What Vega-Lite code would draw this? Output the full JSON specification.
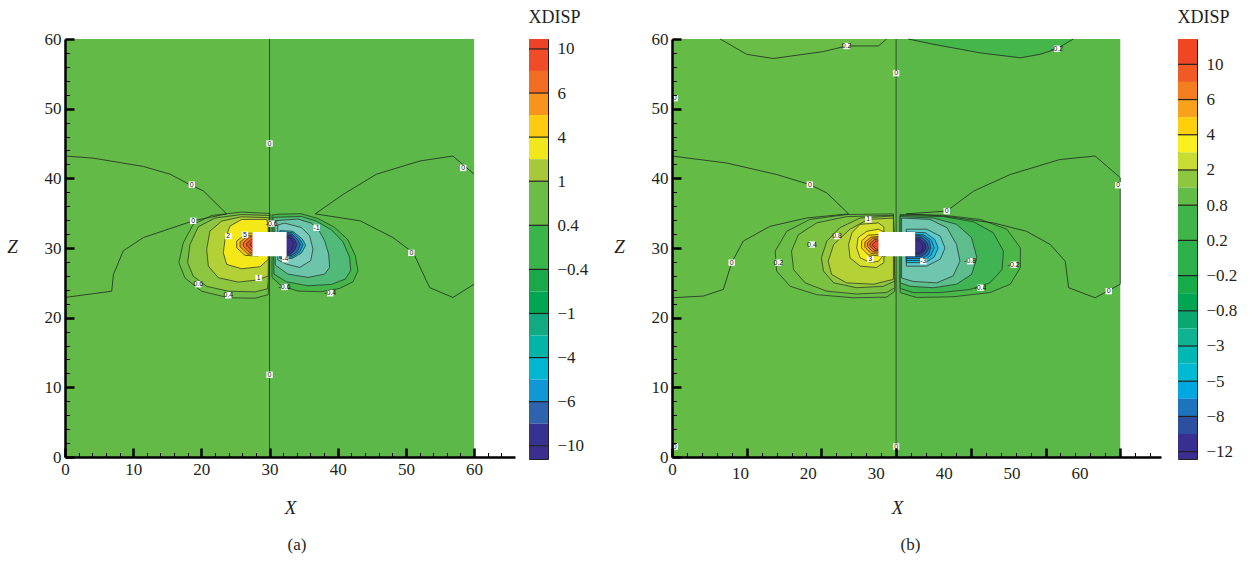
{
"$schema":"https://vega.github.io/schema/vega-lite/v6.json",
"background":"white",
"padding":{"left":6,"top":8,"right":2,"bottom":2},
"config":{
 "view":{"stroke":null},
 "axis":{"domainColor":"#000","domainWidth":2.5,"tickColor":"#000","labelFont":"Liberation Serif","labelFontSize":17,"labelColor":"#231f20","titleFont":"Liberation Serif","titleFontSize":19,"titleFontStyle":"italic","titleFontWeight":"normal","titleColor":"#231f20","grid":false,"labelFlush":false,"labelOverlap":false,"labelPadding":13},
 "title":{"font":"Liberation Serif","fontWeight":"normal","color":"#231f20"}
},
"datasets":{
 "bgA":[
  {"id":"bgL","i":0,"x":0,"z":0},{"id":"bgL","i":1,"x":30,"z":0},{"id":"bgL","i":2,"x":30,"z":60},{"id":"bgL","i":3,"x":0,"z":60},
  {"id":"bgR","i":0,"x":30,"z":0},{"id":"bgR","i":1,"x":60,"z":0},{"id":"bgR","i":2,"x":60,"z":60},{"id":"bgR","i":3,"x":30,"z":60}
 ],
 "lobesA":[
  {"id":"p01","i":0,"x":30.06,"z":34.96},{"id":"p01","i":1,"x":25.9,"z":35.15},{"id":"p01","i":2,"x":21.5,"z":34.67},{"id":"p01","i":3,"x":18.8,"z":33.38},{"id":"p01","i":4,"x":17.35,"z":30.75},{"id":"p01","i":5,"x":16.7,"z":27.9},{"id":"p01","i":6,"x":17.6,"z":25.7},{"id":"p01","i":7,"x":20.04,"z":23.8},{"id":"p01","i":8,"x":23.95,"z":22.86},{"id":"p01","i":9,"x":27.9,"z":22.8},{"id":"p01","i":10,"x":29.8,"z":23.3},{"id":"p01","i":11,"x":30.0,"z":26},
  {"id":"p02","i":0,"x":30.0,"z":34.67},{"id":"p02","i":1,"x":25.9,"z":34.8},{"id":"p02","i":2,"x":22.0,"z":34.3},{"id":"p02","i":3,"x":19.55,"z":33.05},{"id":"p02","i":4,"x":18.33,"z":30.5},{"id":"p02","i":5,"x":17.99,"z":27.9},{"id":"p02","i":6,"x":18.8,"z":25.97},{"id":"p02","i":7,"x":20.78,"z":24.5},{"id":"p02","i":8,"x":23.95,"z":23.8},{"id":"p02","i":9,"x":27.9,"z":23.7},{"id":"p02","i":10,"x":29.7,"z":24.15},{"id":"p02","i":11,"x":29.9,"z":26.5},
  {"id":"p03","i":0,"x":29.9,"z":34.34},{"id":"p03","i":1,"x":25.9,"z":34.48},{"id":"p03","i":2,"x":22.98,"z":33.86},{"id":"p03","i":3,"x":21.26,"z":32.43},{"id":"p03","i":4,"x":20.78,"z":29.8},{"id":"p03","i":5,"x":21.02,"z":27.4},{"id":"p03","i":6,"x":22.49,"z":25.73},{"id":"p03","i":7,"x":25.42,"z":25.11},{"id":"p03","i":8,"x":28.11,"z":25.4},{"id":"p03","i":9,"x":29.8,"z":25.97},
  {"id":"p04","i":0,"x":29.6,"z":34.1},{"id":"p04","i":1,"x":25.9,"z":34.1},{"id":"p04","i":2,"x":24.2,"z":33.14},{"id":"p04","i":3,"x":23.47,"z":31.23},{"id":"p04","i":4,"x":23.22,"z":29.32},{"id":"p04","i":5,"x":23.71,"z":27.65},{"id":"p04","i":6,"x":25.91,"z":27.02},{"id":"p04","i":7,"x":28.6,"z":27.31},{"id":"p04","i":8,"x":29.8,"z":28.36},{"id":"p04","i":9,"x":29.8,"z":33},
  {"id":"p05","i":0,"x":28.36,"z":32.19},{"id":"p05","i":1,"x":26.64,"z":32.09},{"id":"p05","i":2,"x":25.18,"z":30.99},{"id":"p05","i":3,"x":25.18,"z":30.03},{"id":"p05","i":4,"x":26.4,"z":28.94},{"id":"p05","i":5,"x":28.36,"z":28.84},
  {"id":"p06","i":0,"x":28.36,"z":31.9},{"id":"p06","i":1,"x":26.89,"z":31.8},{"id":"p06","i":2,"x":25.67,"z":30.85},{"id":"p06","i":3,"x":25.67,"z":30.18},{"id":"p06","i":4,"x":26.79,"z":29.13},{"id":"p06","i":5,"x":28.36,"z":29.08},
  {"id":"p07","i":0,"x":28.36,"z":31.71},{"id":"p07","i":1,"x":27.13,"z":31.61},{"id":"p07","i":2,"x":26.15,"z":30.75},{"id":"p07","i":3,"x":26.15,"z":30.27},{"id":"p07","i":4,"x":27.13,"z":29.32},{"id":"p07","i":5,"x":28.36,"z":29.32},
  {"id":"p08","i":0,"x":28.36,"z":31.47},{"id":"p08","i":1,"x":27.48,"z":31.37},{"id":"p08","i":2,"x":26.64,"z":30.66},{"id":"p08","i":3,"x":26.64,"z":30.37},{"id":"p08","i":4,"x":27.48,"z":29.56},{"id":"p08","i":5,"x":28.36,"z":29.56},
  {"id":"p09","i":0,"x":28.36,"z":31.23},{"id":"p09","i":1,"x":27.77,"z":31.13},{"id":"p09","i":2,"x":27.18,"z":30.61},{"id":"p09","i":3,"x":27.18,"z":30.42},{"id":"p09","i":4,"x":27.77,"z":29.8},{"id":"p09","i":5,"x":28.36,"z":29.8},
  {"id":"p11","i":0,"x":30.36,"z":34.72},{"id":"p11","i":1,"x":31.24,"z":34.86},{"id":"p11","i":2,"x":34.66,"z":34.91},{"id":"p11","i":3,"x":37.1,"z":34.24},{"id":"p11","i":4,"x":39.55,"z":32.95},{"id":"p11","i":5,"x":41.5,"z":31.18},{"id":"p11","i":6,"x":42.58,"z":28.89},{"id":"p11","i":7,"x":42.97,"z":26.73},{"id":"p11","i":8,"x":42.23,"z":25.15},{"id":"p11","i":9,"x":40.28,"z":24.2},{"id":"p11","i":10,"x":37.59,"z":23.72},{"id":"p11","i":11,"x":34.17,"z":23.82},{"id":"p11","i":12,"x":31.73,"z":24.58},{"id":"p11","i":13,"x":30.36,"z":25.78},
  {"id":"p12","i":0,"x":30.5,"z":34.4},{"id":"p12","i":1,"x":34.66,"z":34.53},{"id":"p12","i":2,"x":36.86,"z":33.86},{"id":"p12","i":3,"x":39.06,"z":32.62},{"id":"p12","i":4,"x":40.77,"z":30.89},{"id":"p12","i":5,"x":41.75,"z":28.65},{"id":"p12","i":6,"x":41.89,"z":26.73},{"id":"p12","i":7,"x":41.11,"z":25.54},{"id":"p12","i":8,"x":39.06,"z":24.77},{"id":"p12","i":9,"x":35.64,"z":24.58},{"id":"p12","i":10,"x":32.46,"z":25.15},{"id":"p12","i":11,"x":30.65,"z":26.26},
  {"id":"p13","i":0,"x":30.75,"z":33.91},{"id":"p13","i":1,"x":34.17,"z":34.15},{"id":"p13","i":2,"x":36.12,"z":33.57},{"id":"p13","i":3,"x":37.2,"z":32.62},{"id":"p13","i":4,"x":38.08,"z":31.04},{"id":"p13","i":5,"x":38.67,"z":29.12},{"id":"p13","i":6,"x":38.81,"z":27.21},{"id":"p13","i":7,"x":38.08,"z":26.25},{"id":"p13","i":8,"x":35.64,"z":25.78},{"id":"p13","i":9,"x":32.7,"z":26.25},{"id":"p13","i":10,"x":30.85,"z":27.55},
  {"id":"p14","i":0,"x":31.2,"z":33.3},{"id":"p14","i":1,"x":32.21,"z":33.57},{"id":"p14","i":2,"x":34.66,"z":32.95},{"id":"p14","i":3,"x":35.88,"z":31.75},{"id":"p14","i":4,"x":36.37,"z":29.84},{"id":"p14","i":5,"x":36.03,"z":28.17},{"id":"p14","i":6,"x":34.41,"z":27.21},{"id":"p14","i":7,"x":32.46,"z":27.69},{"id":"p14","i":8,"x":31.2,"z":28.3},
  {"id":"p15","i":0,"x":31.5,"z":32.5},{"id":"p15","i":1,"x":33.4,"z":32.4},{"id":"p15","i":2,"x":34.8,"z":31.3},{"id":"p15","i":3,"x":35.3,"z":30.4},{"id":"p15","i":4,"x":34.7,"z":29.3},{"id":"p15","i":5,"x":33.3,"z":28.5},{"id":"p15","i":6,"x":31.5,"z":28.5},
  {"id":"p16","i":0,"x":31.5,"z":32.3},{"id":"p16","i":1,"x":33.4,"z":32.2},{"id":"p16","i":2,"x":34.5,"z":31.2},{"id":"p16","i":3,"x":34.9,"z":30.45},{"id":"p16","i":4,"x":34.4,"z":29.4},{"id":"p16","i":5,"x":33.3,"z":28.7},{"id":"p16","i":6,"x":31.5,"z":28.7},
  {"id":"p17","i":0,"x":31.5,"z":32.1},{"id":"p17","i":1,"x":33.3,"z":32.0},{"id":"p17","i":2,"x":34.2,"z":31.1},{"id":"p17","i":3,"x":34.5,"z":30.5},{"id":"p17","i":4,"x":34.1,"z":29.5},{"id":"p17","i":5,"x":33.2,"z":28.9},{"id":"p17","i":6,"x":31.5,"z":28.9},
  {"id":"p18","i":0,"x":31.5,"z":31.9},{"id":"p18","i":1,"x":33.2,"z":31.8},{"id":"p18","i":2,"x":33.8,"z":31.0},{"id":"p18","i":3,"x":34.0,"z":30.5},{"id":"p18","i":4,"x":33.7,"z":29.7},{"id":"p18","i":5,"x":33.1,"z":29.1},{"id":"p18","i":6,"x":31.5,"z":29.1},
  {"id":"p19","i":0,"x":31.5,"z":31.6},{"id":"p19","i":1,"x":33.0,"z":31.5},{"id":"p19","i":2,"x":33.4,"z":30.9},{"id":"p19","i":3,"x":33.5,"z":30.5},{"id":"p19","i":4,"x":33.3,"z":29.9},{"id":"p19","i":5,"x":32.9,"z":29.4},{"id":"p19","i":6,"x":31.5,"z":29.4}
 ],
 "linesA":[
  {"id":"L1","i":0,"x":0,"z":43.2},{"id":"L1","i":1,"x":4.15,"z":42.9},{"id":"L1","i":2,"x":11.5,"z":41.7},{"id":"L1","i":3,"x":15.4,"z":40.6},{"id":"L1","i":4,"x":18.3,"z":39.1},{"id":"L1","i":5,"x":20.3,"z":38.2},{"id":"L1","i":6,"x":23.7,"z":34.9},
  {"id":"L2","i":0,"x":23.7,"z":34.9},{"id":"L2","i":1,"x":18.8,"z":33.9},{"id":"L2","i":2,"x":11.5,"z":31.5},{"id":"L2","i":3,"x":8.55,"z":29.6},{"id":"L2","i":4,"x":7.1,"z":26.2},{"id":"L2","i":5,"x":6.85,"z":23.8},{"id":"L2","i":6,"x":0,"z":22.9},
  {"id":"L3","i":0,"x":36.7,"z":34.9},{"id":"L3","i":1,"x":40.8,"z":37.7},{"id":"L3","i":2,"x":45.7,"z":40.6},{"id":"L3","i":3,"x":52.1,"z":42.5},{"id":"L3","i":4,"x":56.9,"z":43.2},{"id":"L3","i":5,"x":60,"z":40.6},
  {"id":"L4","i":0,"x":36.7,"z":34.9},{"id":"L4","i":1,"x":43.3,"z":33.9},{"id":"L4","i":2,"x":48.1,"z":31.5},{"id":"L4","i":3,"x":51.1,"z":29.3},{"id":"L4","i":4,"x":53.0,"z":25.3},{"id":"L4","i":5,"x":53.5,"z":24.3},{"id":"L4","i":6,"x":56.9,"z":22.9},{"id":"L4","i":7,"x":60,"z":24.8},
  {"id":"V","i":0,"x":30,"z":0},{"id":"V","i":1,"x":30,"z":60}
 ],
 "blockA":[{"x":27.5,"x1":32.5,"z":28.8,"z1":32.3}],
 "textA":[
  {"x":30,"z":45,"t":"0"},{"x":30,"z":11.8,"t":"0"},{"x":18.6,"z":39.1,"t":"0"},{"x":18.8,"z":33.9,"t":"0"},{"x":58.4,"z":41.5,"t":"0"},{"x":50.8,"z":29.3,"t":"0"},
  {"x":19.55,"z":24.8,"t":"0.6"},{"x":23.95,"z":23.2,"t":"0.4"},{"x":28.4,"z":25.7,"t":"1"},{"x":23.95,"z":31.7,"t":"2"},{"x":26.4,"z":31.9,"t":"5"},
  {"x":30.3,"z":33.5,"t":"-0.6"},{"x":36.9,"z":32.9,"t":"-1"},{"x":32.3,"z":28.4,"t":"-4"},{"x":32.2,"z":24.4,"t":"-0.6"},{"x":38.9,"z":23.5,"t":"-0.4"}
 ],
 "legA":[
  {"id":"la00","y":0,"y1":0.45},{"id":"la01","y":0.45,"y1":1.45},{"id":"la02","y":1.45,"y1":2.45},{"id":"la03","y":2.45,"y1":3.45},{"id":"la04","y":3.45,"y1":4.45},{"id":"la05","y":4.45,"y1":5.45},{"id":"la06","y":5.45,"y1":6.45},{"id":"la07","y":6.45,"y1":8.45},{"id":"la08","y":8.45,"y1":10.45},{"id":"la09","y":10.45,"y1":11.45},{"id":"la10","y":11.45,"y1":12.45},{"id":"la11","y":12.45,"y1":13.45},{"id":"la12","y":13.45,"y1":14.45},{"id":"la13","y":14.45,"y1":15.45},{"id":"la14","y":15.45,"y1":16.45},{"id":"la15","y":16.45,"y1":17.45},{"id":"la16","y":17.45,"y1":18.45},{"id":"la17","y":18.45,"y1":19.05}
 ],
 "legAL":[{"y":0.45},{"y":2.45},{"y":4.45},{"y":6.45},{"y":8.45},{"y":10.45},{"y":12.45},{"y":14.45},{"y":16.45},{"y":18.45}],
 "bgB":[
  {"id":"bgL","i":0,"x":0,"z":0},{"id":"bgL","i":1,"x":33,"z":0},{"id":"bgL","i":2,"x":33,"z":60},{"id":"bgL","i":3,"x":0,"z":60},
  {"id":"bgR","i":0,"x":33,"z":0},{"id":"bgR","i":1,"x":66,"z":0},{"id":"bgR","i":2,"x":66,"z":60},{"id":"bgR","i":3,"x":33,"z":60},
  {"id":"tl","i":0,"x":7.1,"z":60},{"id":"tl","i":1,"x":11.0,"z":57.8},{"id":"tl","i":2,"x":14.9,"z":57.2},{"id":"tl","i":3,"x":22.3,"z":58.2},{"id":"tl","i":4,"x":25.7,"z":59.0},{"id":"tl","i":5,"x":30.4,"z":59.0},{"id":"tl","i":6,"x":31.6,"z":60},
  {"id":"tr","i":0,"x":34.8,"z":60},{"id":"tr","i":1,"x":38.2,"z":59.3},{"id":"tr","i":2,"x":45.4,"z":58.0},{"id":"tr","i":3,"x":51.3,"z":57.3},{"id":"tr","i":4,"x":54.2,"z":57.8},{"id":"tr","i":5,"x":56.7,"z":58.6},{"id":"tr","i":6,"x":59.1,"z":60}
 ],
 "lobesB":[
  {"id":"q01","i":0,"x":32.6,"z":34.9},{"id":"q01","i":1,"x":25.7,"z":34.8},{"id":"q01","i":2,"x":20.3,"z":34.1},{"id":"q01","i":3,"x":16.9,"z":32.4},{"id":"q01","i":4,"x":15.2,"z":29.55},{"id":"q01","i":5,"x":15.4,"z":26.7},{"id":"q01","i":6,"x":17.4,"z":24.5},{"id":"q01","i":7,"x":21.3,"z":23.3},{"id":"q01","i":8,"x":26.7,"z":22.86},{"id":"q01","i":9,"x":31.6,"z":22.95},{"id":"q01","i":10,"x":32.8,"z":23.8},
  {"id":"q02","i":0,"x":32.6,"z":34.7},{"id":"q02","i":1,"x":25.7,"z":34.5},{"id":"q02","i":2,"x":21.3,"z":33.6},{"id":"q02","i":3,"x":18.6,"z":31.9},{"id":"q02","i":4,"x":17.6,"z":29.55},{"id":"q02","i":5,"x":17.9,"z":26.9},{"id":"q02","i":6,"x":19.6,"z":25.0},{"id":"q02","i":7,"x":22.8,"z":23.8},{"id":"q02","i":8,"x":27.2,"z":23.4},{"id":"q02","i":9,"x":31.6,"z":23.6},{"id":"q02","i":10,"x":32.8,"z":24.3},
  {"id":"q03","i":0,"x":32.6,"z":34.6},{"id":"q03","i":1,"x":27.7,"z":34.3},{"id":"q03","i":2,"x":24.7,"z":32.9},{"id":"q03","i":3,"x":22.8,"z":31.0},{"id":"q03","i":4,"x":22.0,"z":28.6},{"id":"q03","i":5,"x":22.3,"z":26.7},{"id":"q03","i":6,"x":23.8,"z":25.0},{"id":"q03","i":7,"x":27.2,"z":24.3},{"id":"q03","i":8,"x":31.1,"z":24.5},{"id":"q03","i":9,"x":32.8,"z":25.25},
  {"id":"q04","i":0,"x":32.6,"z":34.3},{"id":"q04","i":1,"x":28.9,"z":34.1},{"id":"q04","i":2,"x":26.2,"z":32.7},{"id":"q04","i":3,"x":23.8,"z":30.5},{"id":"q04","i":4,"x":23.0,"z":28.1},{"id":"q04","i":5,"x":23.5,"z":26.2},{"id":"q04","i":6,"x":25.7,"z":25.0},{"id":"q04","i":7,"x":29.7,"z":24.8},{"id":"q04","i":8,"x":32.6,"z":25.5},
  {"id":"q05","i":0,"x":30.4,"z":33.6},{"id":"q05","i":1,"x":27.7,"z":33.4},{"id":"q05","i":2,"x":26.5,"z":32.2},{"id":"q05","i":3,"x":26.0,"z":30.5},{"id":"q05","i":4,"x":26.2,"z":28.6},{"id":"q05","i":5,"x":27.7,"z":27.4},{"id":"q05","i":6,"x":30.1,"z":27.2},{"id":"q05","i":7,"x":31.2,"z":27.9},{"id":"q05","i":8,"x":31.2,"z":33.0},
  {"id":"q06","i":0,"x":30.4,"z":32.7},{"id":"q06","i":1,"x":28.7,"z":32.4},{"id":"q06","i":2,"x":27.4,"z":31.5},{"id":"q06","i":3,"x":27.2,"z":30.0},{"id":"q06","i":4,"x":27.7,"z":28.6},{"id":"q06","i":5,"x":29.2,"z":27.9},{"id":"q06","i":6,"x":30.4,"z":28.1},{"id":"q06","i":7,"x":31.2,"z":29.0},{"id":"q06","i":8,"x":31.2,"z":32.3},
  {"id":"q07","i":0,"x":31.5,"z":32.0},{"id":"q07","i":1,"x":28.9,"z":31.85},{"id":"q07","i":2,"x":27.9,"z":31.0},{"id":"q07","i":3,"x":27.9,"z":30.0},{"id":"q07","i":4,"x":28.9,"z":29.0},{"id":"q07","i":5,"x":31.5,"z":28.8},
  {"id":"q08","i":0,"x":31.5,"z":31.75},{"id":"q08","i":1,"x":29.3,"z":31.56},{"id":"q08","i":2,"x":28.4,"z":30.85},{"id":"q08","i":3,"x":28.4,"z":30.13},{"id":"q08","i":4,"x":29.3,"z":29.2},{"id":"q08","i":5,"x":31.5,"z":29.08},
  {"id":"q09","i":0,"x":31.5,"z":31.56},{"id":"q09","i":1,"x":29.55,"z":31.4},{"id":"q09","i":2,"x":28.8,"z":30.75},{"id":"q09","i":3,"x":28.8,"z":30.2},{"id":"q09","i":4,"x":29.55,"z":29.46},{"id":"q09","i":5,"x":31.5,"z":29.3},
  {"id":"q10","i":0,"x":31.5,"z":31.4},{"id":"q10","i":1,"x":29.8,"z":31.2},{"id":"q10","i":2,"x":29.16,"z":30.65},{"id":"q10","i":3,"x":29.16,"z":30.3},{"id":"q10","i":4,"x":29.8,"z":29.65},{"id":"q10","i":5,"x":31.5,"z":29.55},
  {"id":"q11","i":0,"x":31.5,"z":31.18},{"id":"q11","i":1,"x":30.04,"z":31.0},{"id":"q11","i":2,"x":29.55,"z":30.56},{"id":"q11","i":3,"x":29.55,"z":30.37},{"id":"q11","i":4,"x":30.04,"z":29.84},{"id":"q11","i":5,"x":31.5,"z":29.75},
  {"id":"r01","i":0,"x":33.6,"z":34.8},{"id":"r01","i":1,"x":40.0,"z":34.7},{"id":"r01","i":2,"x":45.4,"z":34.1},{"id":"r01","i":3,"x":49.3,"z":32.7},{"id":"r01","i":4,"x":51.3,"z":30.0},{"id":"r01","i":5,"x":51.3,"z":27.2},{"id":"r01","i":6,"x":49.8,"z":24.8},{"id":"r01","i":7,"x":46.8,"z":23.6},{"id":"r01","i":8,"x":41.4,"z":23.0},{"id":"r01","i":9,"x":36.0,"z":22.9},{"id":"r01","i":10,"x":33.6,"z":23.6},
  {"id":"r02","i":0,"x":33.6,"z":34.67},{"id":"r02","i":1,"x":40.0,"z":34.5},{"id":"r02","i":2,"x":44.4,"z":33.76},{"id":"r02","i":3,"x":47.3,"z":32.2},{"id":"r02","i":4,"x":48.8,"z":29.55},{"id":"r02","i":5,"x":48.6,"z":26.9},{"id":"r02","i":6,"x":46.8,"z":25.0},{"id":"r02","i":7,"x":43.9,"z":24.05},{"id":"r02","i":8,"x":39.5,"z":23.6},{"id":"r02","i":9,"x":35.5,"z":23.6},{"id":"r02","i":10,"x":33.6,"z":24.2},
  {"id":"r03","i":0,"x":33.6,"z":34.5},{"id":"r03","i":1,"x":38.5,"z":34.3},{"id":"r03","i":2,"x":41.9,"z":33.4},{"id":"r03","i":3,"x":44.1,"z":31.5},{"id":"r03","i":4,"x":44.9,"z":28.6},{"id":"r03","i":5,"x":44.1,"z":26.2},{"id":"r03","i":6,"x":41.9,"z":24.8},{"id":"r03","i":7,"x":38.5,"z":24.3},{"id":"r03","i":8,"x":35.1,"z":24.5},{"id":"r03","i":9,"x":33.6,"z":25.0},
  {"id":"r04","i":0,"x":33.8,"z":34.3},{"id":"r04","i":1,"x":38.0,"z":34.1},{"id":"r04","i":2,"x":40.5,"z":32.9},{"id":"r04","i":3,"x":41.9,"z":30.5},{"id":"r04","i":4,"x":42.4,"z":28.1},{"id":"r04","i":5,"x":41.4,"z":26.0},{"id":"r04","i":6,"x":39.0,"z":25.0},{"id":"r04","i":7,"x":35.5,"z":25.2},{"id":"r04","i":8,"x":33.8,"z":25.7},
  {"id":"r05","i":0,"x":34.5,"z":32.7},{"id":"r05","i":1,"x":37.5,"z":32.7},{"id":"r05","i":2,"x":39.5,"z":31.7},{"id":"r05","i":3,"x":40.2,"z":30.0},{"id":"r05","i":4,"x":39.5,"z":28.4},{"id":"r05","i":5,"x":37.5,"z":27.4},{"id":"r05","i":6,"x":34.5,"z":27.4},
  {"id":"r06","i":0,"x":34.5,"z":32.3},{"id":"r06","i":1,"x":37.3,"z":32.2},{"id":"r06","i":2,"x":38.7,"z":31.2},{"id":"r06","i":3,"x":39.2,"z":30.0},{"id":"r06","i":4,"x":38.6,"z":28.7},{"id":"r06","i":5,"x":37.3,"z":27.9},{"id":"r06","i":6,"x":34.5,"z":27.9},
  {"id":"r07","i":0,"x":34.5,"z":32.0},{"id":"r07","i":1,"x":37.0,"z":31.9},{"id":"r07","i":2,"x":38.2,"z":31.1},{"id":"r07","i":3,"x":38.6,"z":30.0},{"id":"r07","i":4,"x":38.1,"z":28.9},{"id":"r07","i":5,"x":37.0,"z":28.2},{"id":"r07","i":6,"x":34.5,"z":28.2},
  {"id":"r08","i":0,"x":34.5,"z":31.85},{"id":"r08","i":1,"x":36.9,"z":31.75},{"id":"r08","i":2,"x":37.9,"z":31.0},{"id":"r08","i":3,"x":38.1,"z":30.0},{"id":"r08","i":4,"x":37.8,"z":29.1},{"id":"r08","i":5,"x":36.9,"z":28.5},{"id":"r08","i":6,"x":34.5,"z":28.5},
  {"id":"r09","i":0,"x":34.5,"z":31.6},{"id":"r09","i":1,"x":36.7,"z":31.5},{"id":"r09","i":2,"x":37.5,"z":30.85},{"id":"r09","i":3,"x":37.8,"z":30.0},{"id":"r09","i":4,"x":37.4,"z":29.3},{"id":"r09","i":5,"x":36.7,"z":28.8},{"id":"r09","i":6,"x":34.5,"z":28.8},
  {"id":"r10","i":0,"x":34.5,"z":31.4},{"id":"r10","i":1,"x":36.5,"z":31.3},{"id":"r10","i":2,"x":37.2,"z":30.7},{"id":"r10","i":3,"x":37.4,"z":30.0},{"id":"r10","i":4,"x":37.1,"z":29.5},{"id":"r10","i":5,"x":36.5,"z":29.1},{"id":"r10","i":6,"x":34.5,"z":29.1},
  {"id":"r11","i":0,"x":34.5,"z":31.2},{"id":"r11","i":1,"x":36.3,"z":31.1},{"id":"r11","i":2,"x":36.8,"z":30.6},{"id":"r11","i":3,"x":37.0,"z":30.0},{"id":"r11","i":4,"x":36.8,"z":29.6},{"id":"r11","i":5,"x":36.3,"z":29.3},{"id":"r11","i":6,"x":34.5,"z":29.3}
 ],
 "linesB":[
  {"id":"T1","i":0,"x":7.1,"z":60},{"id":"T1","i":1,"x":11.0,"z":57.8},{"id":"T1","i":2,"x":14.9,"z":57.2},{"id":"T1","i":3,"x":22.3,"z":58.2},{"id":"T1","i":4,"x":25.7,"z":59.0},{"id":"T1","i":5,"x":30.4,"z":59.0},{"id":"T1","i":6,"x":31.6,"z":60},
  {"id":"T2","i":0,"x":34.8,"z":60},{"id":"T2","i":1,"x":38.2,"z":59.3},{"id":"T2","i":2,"x":45.4,"z":58.0},{"id":"T2","i":3,"x":51.3,"z":57.3},{"id":"T2","i":4,"x":54.2,"z":57.8},{"id":"T2","i":5,"x":56.7,"z":58.6},{"id":"T2","i":6,"x":59.1,"z":60},
  {"id":"L1","i":0,"x":0,"z":43.2},{"id":"L1","i":1,"x":8.05,"z":42.2},{"id":"L1","i":2,"x":15.4,"z":40.55},{"id":"L1","i":3,"x":20.3,"z":39.1},{"id":"L1","i":4,"x":22.8,"z":37.9},{"id":"L1","i":5,"x":26.0,"z":34.9},
  {"id":"L2","i":0,"x":26.0,"z":34.9},{"id":"L2","i":1,"x":19.8,"z":34.3},{"id":"L2","i":2,"x":14.4,"z":33.1},{"id":"L2","i":3,"x":10.5,"z":31.0},{"id":"L2","i":4,"x":8.79,"z":27.9},{"id":"L2","i":5,"x":7.56,"z":24.05},{"id":"L2","i":6,"x":4.6,"z":23.1},{"id":"L2","i":7,"x":0,"z":22.86},
  {"id":"L3","i":0,"x":34.5,"z":34.9},{"id":"L3","i":1,"x":40.45,"z":35.3},{"id":"L3","i":2,"x":44.4,"z":38.16},{"id":"L3","i":3,"x":49.8,"z":40.55},{"id":"L3","i":4,"x":57.1,"z":42.7},{"id":"L3","i":5,"x":62.3,"z":43.2},{"id":"L3","i":6,"x":66,"z":40.1},
  {"id":"L4","i":0,"x":34.5,"z":34.9},{"id":"L4","i":1,"x":40.0,"z":34.6},{"id":"L4","i":2,"x":47.3,"z":33.6},{"id":"L4","i":3,"x":52.2,"z":32.4},{"id":"L4","i":4,"x":55.7,"z":30.5},{"id":"L4","i":5,"x":57.9,"z":28.1},{"id":"L4","i":6,"x":58.4,"z":24.3},{"id":"L4","i":7,"x":62.3,"z":22.86},{"id":"L4","i":8,"x":66,"z":24.8},
  {"id":"E","i":0,"x":66,"z":24.8},{"id":"E","i":1,"x":66,"z":40.1},
  {"id":"V","i":0,"x":33,"z":0},{"id":"V","i":1,"x":33,"z":60}
 ],
 "blockB":[{"x":30.4,"x1":35.8,"z":28.8,"z1":32.3}],
 "textB":[
  {"x":25.7,"z":59.0,"t":"0.2"},{"x":56.7,"z":58.6,"t":"-0.2"},{"x":33,"z":55.1,"t":"0"},{"x":20.3,"z":39.1,"t":"0"},{"x":40.45,"z":35.3,"t":"0"},{"x":65.7,"z":39.0,"t":"0"},{"x":8.79,"z":27.9,"t":"0"},{"x":64.3,"z":23.8,"t":"0"},{"x":33,"z":1.5,"t":"0"},{"x":0.4,"z":51.5,"t":"0"},{"x":0.4,"z":1.5,"t":"0"},
  {"x":15.66,"z":27.9,"t":"0.2"},{"x":20.6,"z":30.5,"t":"0.4"},{"x":24.3,"z":31.7,"t":"0.8"},{"x":28.9,"z":34.1,"t":"1"},{"x":29.2,"z":28.4,"t":"3"},{"x":37.0,"z":28.1,"t":"-3"},{"x":43.9,"z":28.1,"t":"-0.8"},{"x":50.3,"z":27.6,"t":"-0.2"},{"x":45.4,"z":24.3,"t":"-0.4"}
 ],
 "legB":[
  {"id":"lb00","y":0,"y1":1.44},{"id":"lb01","y":1.44,"y1":2.44},{"id":"lb02","y":2.44,"y1":3.44},{"id":"lb03","y":3.44,"y1":4.44},{"id":"lb04","y":4.44,"y1":5.44},{"id":"lb05","y":5.44,"y1":6.44},{"id":"lb06","y":6.44,"y1":7.44},{"id":"lb07","y":7.44,"y1":8.44},{"id":"lb08","y":8.44,"y1":9.44},{"id":"lb09","y":9.44,"y1":11.44},{"id":"lb10","y":11.44,"y1":13.44},{"id":"lb11","y":13.44,"y1":14.44},{"id":"lb12","y":14.44,"y1":15.44},{"id":"lb13","y":15.44,"y1":16.44},{"id":"lb14","y":16.44,"y1":17.44},{"id":"lb15","y":17.44,"y1":18.44},{"id":"lb16","y":18.44,"y1":19.44},{"id":"lb17","y":19.44,"y1":20.44},{"id":"lb18","y":20.44,"y1":21.44},{"id":"lb19","y":21.44,"y1":22.44},{"id":"lb20","y":22.44,"y1":23.44},{"id":"lb21","y":23.44,"y1":23.86}
 ],
 "legBL":[{"y":1.44},{"y":3.44},{"y":5.44},{"y":7.44},{"y":9.44},{"y":11.44},{"y":13.44},{"y":15.44},{"y":17.44},{"y":19.44},{"y":21.44},{"y":23.44}]
},
"resolve":{"scale":{"fill":"independent","x":"independent","y":"independent"}},
"spacing":24,
"hconcat":[
 {"spacing":12,"resolve":{"scale":{"fill":"independent","x":"independent","y":"independent"}},"hconcat":[
  {
   "width":450,"height":418,
   "title":{"text":"(a)","orient":"bottom","fontSize":17,"offset":20,"dx":7},
   "encoding":{
    "x":{"field":"x","type":"quantitative","title":"X","scale":{"domain":[0,66],"nice":false,"zero":false},
     "axis":{"zindex":1,"format":"d","tickCount":200,"values":[0,2,4,6,8,10,12,14,16,18,20,22,24,26,28,30,32,34,36,38,40,42,44,46,48,50,52,54,56,58,60,62,64],"labelExpr":"datum.value % 10 === 0 ? datum.label : ''","tickSize":{"condition":{"test":"datum.value % 10 === 0","value":-9},"value":-4.5},"tickWidth":{"condition":{"test":"datum.value % 10 === 0","value":2.5},"value":1},"titleX":225,"titleY":50,"titleAlign":"center","titleBaseline":"middle"}},
    "y":{"field":"z","type":"quantitative","title":"Z","scale":{"domain":[0,60],"nice":false,"zero":false},
     "axis":{"zindex":1,"format":"d","tickCount":200,"values":[0,2,4,6,8,10,12,14,16,18,20,22,24,26,28,30,32,34,36,38,40,42,44,46,48,50,52,54,56,58,60],"labelExpr":"datum.value % 10 === 0 ? datum.label : ''","tickSize":{"condition":{"test":"datum.value % 10 === 0","value":-9},"value":-4.5},"tickWidth":{"condition":{"test":"datum.value % 10 === 0","value":2.5},"value":1},"titleAngle":0,"titleX":-53,"titleY":207,"titleAlign":"center","titleBaseline":"middle"}},
    "fill":{"field":"id","type":"nominal","legend":null,"scale":{
     "domain":["bgL","bgR","p01","p02","p03","p04","p05","p06","p07","p08","p09","p11","p12","p13","p14","p15","p16","p17","p18","p19"],
     "range":["#63ba46","#5cb848","#6fbe45","#8cc540","#b3d037","#f4e819","#fccf0e","#f7941e","#f26b22","#ee4d26","#e8412a","#46b64b","#52ba78","#6cc5ab","#7acbbd","#22b8d6","#1b95d5","#2e62ad","#37318f","#3b2f8f"]}}
   },
   "layer":[
    {"data":{"name":"bgA"},"mark":{"type":"line","interpolate":"linear-closed","stroke":"transparent","strokeWidth":0},"encoding":{"order":{"field":"i","type":"quantitative"}}},
    {"data":{"name":"lobesA"},"mark":{"type":"line","interpolate":"linear-closed","stroke":"#1f2a20","strokeWidth":0.7},"encoding":{"order":{"field":"i","type":"quantitative"}}},
    {"data":{"name":"linesA"},"mark":{"type":"line","stroke":"#1f2a20","strokeWidth":0.8},"encoding":{"detail":{"field":"id"},"order":{"field":"i","type":"quantitative"},"fill":{"value":"transparent"}}},
    {"data":{"name":"blockA"},"mark":{"type":"rect"},"encoding":{"x2":{"field":"x1"},"y2":{"field":"z1"},"fill":{"value":"white"}}},
    {"data":{"name":"textA"},"mark":{"type":"point","shape":"square","filled":true,"size":40,"opacity":1},"encoding":{"fill":{"value":"white"}}},
    {"data":{"name":"textA"},"mark":{"type":"text","fontSize":7,"font":"Liberation Sans"},"encoding":{"text":{"field":"t"},"fill":{"value":"#111"}}}
   ]
  },
  {
   "width":19,"height":420,
   "view":{"stroke":"#231f20","strokeWidth":1},
   "title":{"text":"XDISP","anchor":"start","fontSize":18,"offset":12},
   "layer":[
    {"data":{"name":"legA"},"mark":{"type":"rect"},"encoding":{
      "y":{"field":"y","type":"quantitative","title":null,"scale":{"domain":[0,19.05],"reverse":true,"nice":false,"zero":false},
       "axis":{"orient":"right","tickCount":200,"values":[0.45,2.45,4.45,6.45,8.45,10.45,12.45,14.45,16.45,18.45],"labelExpr":"['10','6','4','1','0.4','−0.4','−1','−4','−6','−10'][round((datum.value-0.45)/2)]","ticks":false,"domain":false,"labelPadding":9,"labelBaseline":"middle","labelOverlap":false,"labelBound":false}},
      "y2":{"field":"y1"},
      "fill":{"field":"id","type":"nominal","legend":null,"scale":{
       "domain":["la00","la01","la02","la03","la04","la05","la06","la07","la08","la09","la10","la11","la12","la13","la14","la15","la16","la17"],
       "range":["#ec4326","#ef4c27","#f26d21","#f7941d","#fdcc0e","#f0e81a","#a8c83a","#6bbd45","#39b54a","#1aa84b","#00a651","#12aa80","#00b4a6","#00b6d0","#0f97d6","#2e63ae","#35338f","#3a2f8e"]}}}},
    {"data":{"name":"legAL"},"mark":{"type":"rule","color":"#231f20","strokeWidth":1.2},"encoding":{"y":{"field":"y","type":"quantitative"}}}
   ]
  }
 ]},
 {"spacing":15,"resolve":{"scale":{"fill":"independent","x":"independent","y":"independent"}},"hconcat":[
  {
   "width":489,"height":418,
   "title":{"text":"(b)","orient":"bottom","fontSize":17,"offset":20,"dx":-6},
   "encoding":{
    "x":{"field":"x","type":"quantitative","title":"X","scale":{"domain":[0,72],"nice":false,"zero":false},
     "axis":{"zindex":1,"format":"d","tickCount":200,"values":[0,2.2,4.4,6.6,8.8,10,11,13.2,15.4,17.6,19.8,20,22,24.2,26.4,28.6,30,30.8,33,35.2,37.4,39.6,40,41.8,44,46.2,48.4,50,50.6,52.8,55,57.2,59.4,60,61.6,63.8,66,68.2,70.4],"labelExpr":"datum.value % 10 === 0 ? datum.label : ''","tickSize":{"condition":{"test":"datum.value % 11 === 0","value":-9},"value":-4.5},"tickWidth":{"condition":{"test":"datum.value % 11 === 0","value":2.5},"value":1},"tickOpacity":{"condition":{"test":"datum.value % 10 === 0 && datum.value % 11 !== 0","value":0},"value":1},"titleX":225,"titleY":50,"titleAlign":"center","titleBaseline":"middle"}},
    "y":{"field":"z","type":"quantitative","title":"Z","scale":{"domain":[0,60],"nice":false,"zero":false},
     "axis":{"zindex":1,"format":"d","tickCount":200,"values":[0,2,4,6,8,10,12,14,16,18,20,22,24,26,28,30,32,34,36,38,40,42,44,46,48,50,52,54,56,58,60],"labelExpr":"datum.value % 10 === 0 ? datum.label : ''","tickSize":{"condition":{"test":"datum.value % 10 === 0","value":-9},"value":-4.5},"tickWidth":{"condition":{"test":"datum.value % 10 === 0","value":2.5},"value":1},"titleAngle":0,"titleX":-53,"titleY":207,"titleAlign":"center","titleBaseline":"middle"}},
    "fill":{"field":"id","type":"nominal","legend":null,"scale":{
     "domain":["bgL","bgR","tl","tr","q01","q02","q03","q04","q05","q06","q07","q08","q09","q10","q11","r01","r02","r03","r04","r05","r06","r07","r08","r09","r10","r11"],
     "range":["#64bc47","#5ab848","#69bd46","#44b64a","#6bbe45","#7cc242","#93c73e","#b4d236","#d5e02c","#f6ec1c","#fdd00c","#f8a21b","#f47d20","#f15a24","#ef4723","#4bb749","#40b352","#5dbd8d","#6fc5ad","#5cc9cc","#19bde0","#1aa5e0","#1c75bc","#2e4e9f","#38308f","#3a2e8e"]}}
   },
   "layer":[
    {"data":{"name":"bgB"},"mark":{"type":"line","interpolate":"linear-closed","stroke":"transparent","strokeWidth":0},"encoding":{"order":{"field":"i","type":"quantitative"}}},
    {"data":{"name":"lobesB"},"mark":{"type":"line","interpolate":"linear-closed","stroke":"#1f2a20","strokeWidth":0.7},"encoding":{"order":{"field":"i","type":"quantitative"}}},
    {"data":{"name":"linesB"},"mark":{"type":"line","stroke":"#1f2a20","strokeWidth":0.8},"encoding":{"detail":{"field":"id"},"order":{"field":"i","type":"quantitative"},"fill":{"value":"transparent"}}},
    {"data":{"name":"blockB"},"mark":{"type":"rect"},"encoding":{"x2":{"field":"x1"},"y2":{"field":"z1"},"fill":{"value":"white"}}},
    {"data":{"name":"textB"},"mark":{"type":"point","shape":"square","filled":true,"size":40,"opacity":1},"encoding":{"fill":{"value":"white"}}},
    {"data":{"name":"textB"},"mark":{"type":"text","fontSize":7,"font":"Liberation Sans"},"encoding":{"text":{"field":"t"},"fill":{"value":"#111"}}}
   ]
  },
  {
   "width":19,"height":420,
   "view":{"stroke":"#231f20","strokeWidth":1},
   "title":{"text":"XDISP","anchor":"start","fontSize":18,"offset":12},
   "layer":[
    {"data":{"name":"legB"},"mark":{"type":"rect"},"encoding":{
      "y":{"field":"y","type":"quantitative","title":null,"scale":{"domain":[0,23.86],"reverse":true,"nice":false,"zero":false},
       "axis":{"orient":"right","tickCount":200,"values":[1.44,3.44,5.44,7.44,9.44,11.44,13.44,15.44,17.44,19.44,21.44,23.44],"labelExpr":"['10','6','4','2','0.8','0.2','−0.2','−0.8','−3','−5','−8','−12'][round((datum.value-1.44)/2)]","ticks":false,"domain":false,"labelPadding":9,"labelBaseline":"middle","labelOverlap":false,"labelBound":false}},
      "y2":{"field":"y1"},
      "fill":{"field":"id","type":"nominal","legend":null,"scale":{
       "domain":["lb00","lb01","lb02","lb03","lb04","lb05","lb06","lb07","lb08","lb09","lb10","lb11","lb12","lb13","lb14","lb15","lb16","lb17","lb18","lb19","lb20","lb21"],
       "range":["#ef4723","#f15a24","#f47d20","#f8a21b","#fed00c","#fbef1e","#c8dc31","#8dc63f","#62bc47","#3fb549","#2cb04a","#17ab4b","#00a651","#08a86f","#0fb392","#00b7b2","#00bad4","#00a7e1","#1c75bc","#2e4e9f","#38308f","#3a2e8e"]}}}},
    {"data":{"name":"legBL"},"mark":{"type":"rule","color":"#231f20","strokeWidth":1.2},"encoding":{"y":{"field":"y","type":"quantitative"}}}
   ]
  }
 ]}
]
}
